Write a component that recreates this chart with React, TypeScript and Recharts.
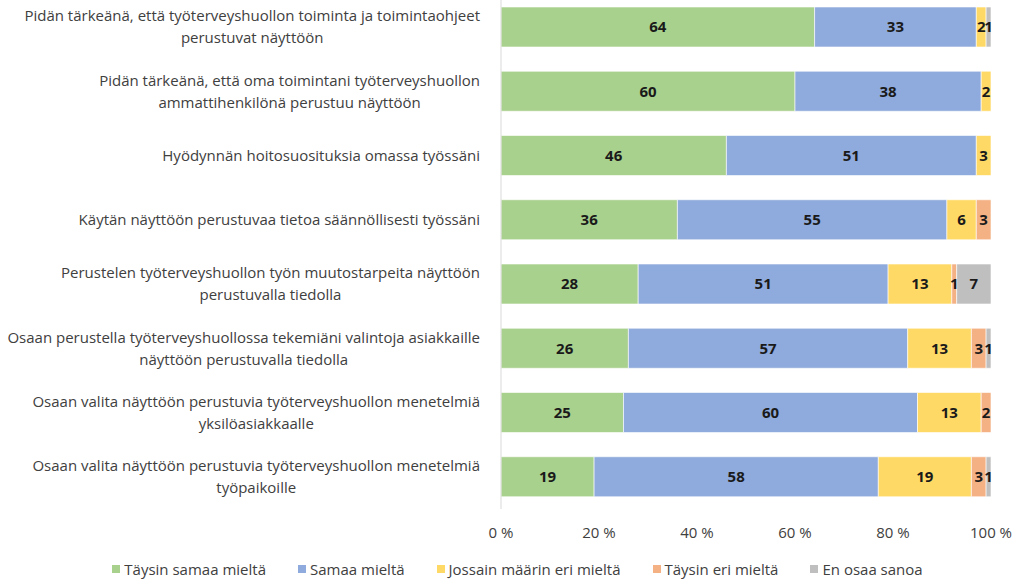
import React from 'react';
import { BarChart, Bar, XAxis, YAxis, Legend, LabelList } from 'recharts';

const statements: string[][] = [
  ['Pidän tärkeänä, että työterveyshuollon toiminta ja toimintaohjeet', 'perustuvat näyttöön'],
  ['Pidän tärkeänä, että oma toimintani työterveyshuollon', 'ammattihenkilönä perustuu näyttöön'],
  ['Hyödynnän hoitosuosituksia omassa työssäni'],
  ['Käytän näyttöön perustuvaa tietoa säännöllisesti työssäni'],
  ['Perustelen työterveyshuollon työn muutostarpeita näyttöön', 'perustuvalla tiedolla'],
  ['Osaan perustella työterveyshuollossa tekemiäni valintoja asiakkaille', 'näyttöön perustuvalla tiedolla'],
  ['Osaan valita näyttöön perustuvia työterveyshuollon menetelmiä', 'yksilöasiakkaalle'],
  ['Osaan valita näyttöön perustuvia työterveyshuollon menetelmiä', 'työpaikoille'],
];

const taysinSamaa = [64, 60, 46, 36, 28, 26, 25, 19];
const samaa = [33, 38, 51, 55, 51, 57, 60, 58];
const jossain = [2, 2, 3, 6, 13, 13, 13, 19];
const taysinEri = [0, 0, 0, 3, 1, 3, 2, 3];
const enOsaa = [1, 0, 0, 0, 7, 1, 0, 1];

const xTicks = [0, 20, 40, 60, 80, 100];

const series = [
  { key: 'taysinSamaa', name: 'Täysin samaa mieltä', color: '#A9D18E' },
  { key: 'samaa', name: 'Samaa mieltä', color: '#8FAADC' },
  { key: 'jossain', name: 'Jossain määrin eri mieltä', color: '#FFD966' },
  { key: 'taysinEri', name: 'Täysin eri mieltä', color: '#F4B183' },
  { key: 'enOsaa', name: 'En osaa sanoa', color: '#BFBFBF' },
];

const data = statements.map((lines, i) => ({
  id: String(i),
  taysinSamaa: taysinSamaa[i],
  samaa: samaa[i],
  jossain: jossain[i],
  taysinEri: taysinEri[i],
  enOsaa: enOsaa[i],
}));

const FONT = "'Open Sans', 'DejaVu Sans', sans-serif";
const TEXT = '#404040';
const FS = 15;

let ctx: CanvasRenderingContext2D | null = null;
function measure(s: string, size: number) {
  if (!ctx) ctx = document.createElement('canvas').getContext('2d');
  if (!ctx) return s.length * size * 0.54;
  ctx.font = `${size}px ${FONT}`;
  return ctx.measureText(s).width;
}

function CategoryTick(props: any) {
  const { x, y, payload } = props;
  const lines = statements[Number(payload.value)];
  const w = Math.max(...lines.map((l) => measure(l, FS)));
  const cx = x - 19 - w / 2;
  const startY = y - ((lines.length - 1) * 22) / 2;
  return (
    <text x={cx} y={startY} textAnchor="middle" fontSize={FS} fontFamily={FONT} fill={TEXT}>
      {lines.map((l, i) => (
        <tspan key={i} x={cx} y={startY + i * 22} dy="0.35em">
          {l}
        </tspan>
      ))}
    </text>
  );
}

function PercentTick(props: any) {
  const { x, y, payload } = props;
  return (
    <text x={x} y={y + 27} textAnchor="middle" fontSize={FS} fontFamily={FONT} fill={TEXT}>
      {payload.value} %
    </text>
  );
}

function LegendBox() {
  return (
    <div
      style={{
        display: 'flex',
        justifyContent: 'center',
        alignItems: 'center',
        height: 35,
        paddingTop: 4,
        boxSizing: 'border-box',
        fontFamily: FONT,
        fontSize: FS,
        color: TEXT,
        gap: 32,
        paddingLeft: 44,
      }}
    >
      {series.map((s) => (
        <div key={s.key} style={{ display: 'flex', alignItems: 'center' }}>
          <span style={{ width: 8, height: 8, background: s.color, marginRight: 4, display: 'inline-block' }} />
          {s.name}
        </div>
      ))}
    </div>
  );
}

export default function App() {
  return (
    <div style={{ position: 'absolute', left: 0, top: -5, width: 1024, height: 589, background: '#fff' }}>
      <BarChart
        width={1024}
        height={589}
        data={data}
        layout="vertical"
        margin={{ top: 0, right: 33, left: 0, bottom: 0 }}
        barSize={40}
      >
        <XAxis
          type="number"
          domain={[0, 100]}
          ticks={xTicks}
          axisLine={false}
          tickLine={false}
          tickSize={0}
          height={40}
          tick={<PercentTick />}
          interval={0}
        />
        <YAxis
          type="category"
          dataKey="id"
          width={501}
          axisLine={{ stroke: '#D9D9D9' }}
          tickLine={false}
          tickSize={0}
          tick={<CategoryTick />}
          interval={0}
        />
        <Legend verticalAlign="bottom" content={<LegendBox />} />
        {series.map((s) => (
          <Bar
            key={s.key}
            dataKey={s.key}
            name={s.name}
            stackId="a"
            fill={s.color}
            stroke="#ffffff"
            strokeWidth={0.6}
            isAnimationActive={false}
          >
            <LabelList
              dataKey={s.key}
              position="center"
              formatter={(v: any) => (v ? String(v) : '')}
              style={{ fontFamily: FONT, fontSize: FS, fontWeight: 700, fill: '#1a1a1a' }}
            />
          </Bar>
        ))}
      </BarChart>
    </div>
  );
}
